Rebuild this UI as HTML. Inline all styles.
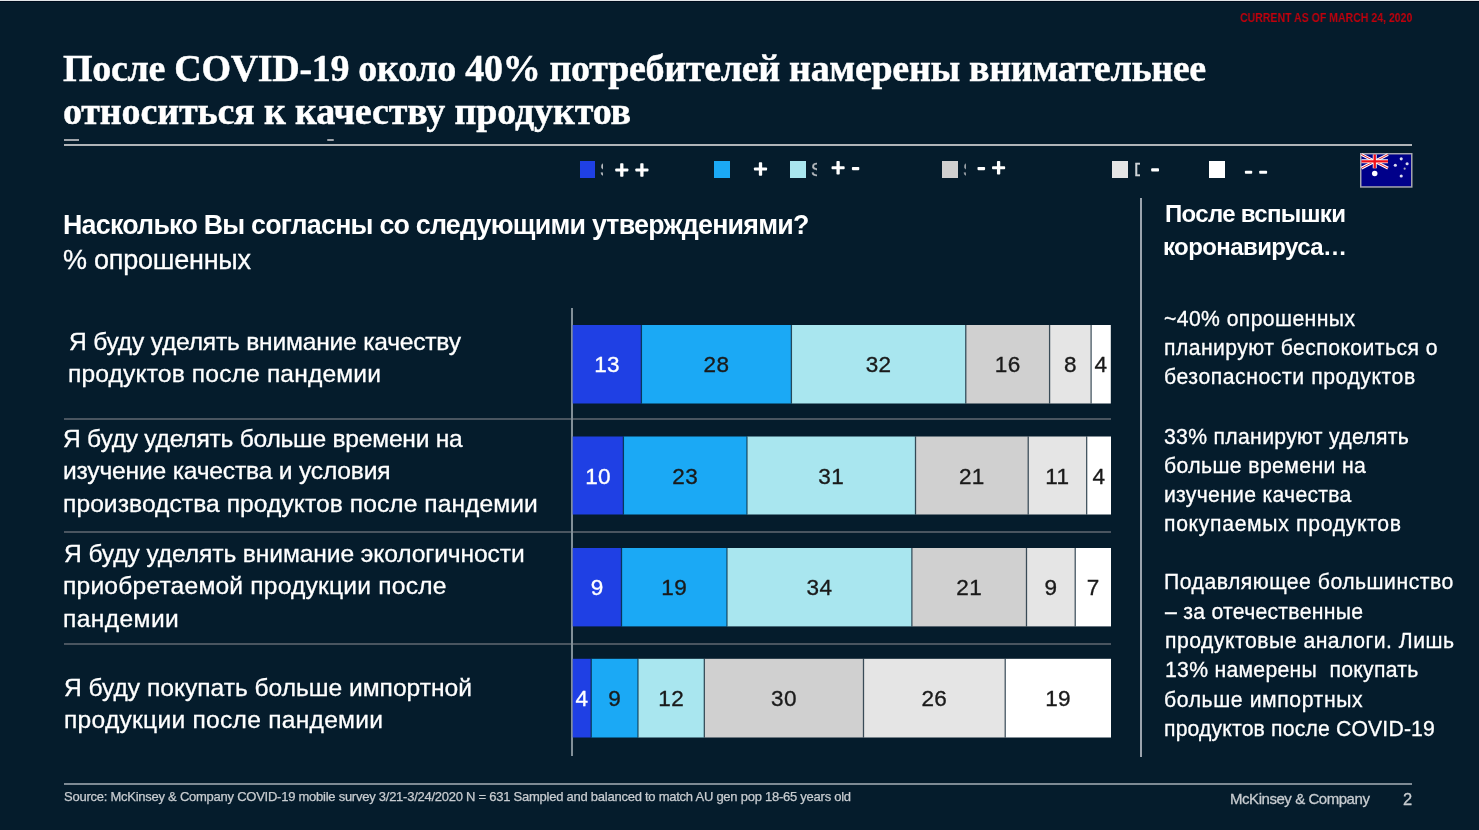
<!DOCTYPE html>
<html lang="ru">
<head>
<meta charset="utf-8">
<title>COVID-19 consumer sentiment</title>
<style>
*{margin:0;padding:0;box-sizing:border-box}
html,body{width:1479px;height:830px;overflow:hidden;background:#051c2c}
body{position:relative;font-family:"Liberation Sans",sans-serif;color:#fff}
.a{position:absolute;white-space:nowrap;will-change:transform}
.topl{position:absolute;left:0;top:0;width:1479px;height:1px;background:#e2e5e8}
.topd{position:absolute;left:0;top:1px;width:1479px;height:1px;background:#000c1c}
.red{left:1240.3px;top:11.3px;font-size:12.5px;line-height:14px;color:#c0000c;font-weight:bold;transform-origin:0 0;transform:scaleX(.843);filter:blur(.5px)}
.rule{position:absolute;background:#b0b4b8}
.sq{position:absolute;width:16px;height:16.2px}
.sep{position:absolute;height:2px;background:#4a5560}
.foot{left:64px;top:789px;font-size:13px;line-height:15px;color:#c8ccd0;letter-spacing:-.25px;-webkit-text-stroke:.25px #c8ccd0}
</style>
</head>
<body>
<div class="topl"></div><div class="topd"></div>
<div class="a red">CURRENT AS OF MARCH 24, 2020</div>
<div class="rule" style="left:64px;top:139px;width:15px;height:2px;background:#a0a4aa"></div>
<div class="rule" style="left:327px;top:139px;width:7px;height:2px;background:#a0a4aa;border-radius:2px"></div>
<div class="rule" style="left:64px;top:144px;width:1348px;height:2px"></div>

<!-- legend -->
<div class="sq" style="left:580px;top:161.4px;width:15px;background:#1f40e4"></div>
<div class="sq" style="left:714px;top:161.4px;background:#1ba9f5"></div>
<div class="sq" style="left:790px;top:161.4px;background:#a9e6ef"></div>
<div class="sq" style="left:942px;top:161.4px;background:#d0d0d0"></div>
<div class="sq" style="left:1112px;top:161.4px;background:#e5e5e5"></div>
<div class="sq" style="left:1209px;top:161.4px;background:#ffffff"></div>

<!-- LEGENDMARKS -->
<svg class="a" style="left:0;top:0" width="1479" height="200" viewBox="0 0 1479 200"><g fill="#fff">
<rect x="615.25" y="168.45" width="13.1" height="3.1" rx="0.8"/><rect x="620.15" y="163.20" width="3.3" height="13.6" rx="0.8"/>
<rect x="635.35" y="168.45" width="13.1" height="3.1" rx="0.8"/><rect x="640.25" y="163.20" width="3.3" height="13.6" rx="0.8"/>
<rect x="753.95" y="167.45" width="13.1" height="3.1" rx="0.8"/><rect x="758.85" y="162.20" width="3.3" height="13.6" rx="0.8"/>
<rect x="831.55" y="166.15" width="13.1" height="3.1" rx="0.8"/><rect x="836.45" y="160.90" width="3.3" height="13.6" rx="0.8"/>
<rect x="851.9" y="167.05" width="7.40" height="3.1" rx="0.8"/>
<rect x="977.5" y="167.05" width="7.60" height="3.1" rx="0.8"/>
<rect x="992.05" y="166.15" width="13.1" height="3.1" rx="0.8"/><rect x="996.95" y="160.90" width="3.3" height="13.6" rx="0.8"/>
<rect x="1151.2" y="168.35" width="7.80" height="3.1" rx="0.8"/>
<rect x="1244.9" y="170.75" width="7.30" height="3.1" rx="0.8"/>
<rect x="1259.2" y="170.75" width="7.90" height="3.1" rx="0.8"/>
</g></svg>
<div class="a" style="left:600.0px;top:159px;width:3.1px;height:22px;overflow:hidden;font-size:17.5px;line-height:22px;color:#b8bcc0;-webkit-text-stroke:.3px #b8bcc0">S</div>
<div class="a" style="left:811.0px;top:159px;width:6.0px;height:22px;overflow:hidden;font-size:17.5px;line-height:22px;color:#b8bcc0;-webkit-text-stroke:.3px #b8bcc0">S</div>
<div class="a" style="left:963.4px;top:159px;width:2.7px;height:22px;overflow:hidden;font-size:17.5px;line-height:22px;color:#9aa0a6;-webkit-text-stroke:.3px #9aa0a6">S</div>
<div class="a" style="left:1133.6px;top:159px;width:6.3px;height:22px;overflow:hidden;font-size:17.5px;line-height:22px;color:#d0d4d8;-webkit-text-stroke:.3px #d0d4d8">D</div>
<!-- /LEGENDMARKS -->
<!-- flag -->
<svg class="a" style="left:1360.2px;top:153.2px;filter:blur(.3px)" width="53" height="35.2" viewBox="0 0 54 36" preserveAspectRatio="none">
<rect x="0.75" y="0.75" width="52" height="34" fill="#00008a" stroke="#a8a8b0" stroke-width="1.5"/>
<g transform="translate(1.5,1.5)">
<path d="M0 0L27 14M27 0L0 14" stroke="#fff" stroke-width="3"/>
<path d="M0 0L27 14M27 0L0 14" stroke="#e0202a" stroke-width="1"/>
<path d="M13.5 0V14M0 7H27" stroke="#fff" stroke-width="4"/>
<path d="M13.5 0V14M0 7H27" stroke="#f0101a" stroke-width="2.4"/>
</g>
<circle cx="15" cy="21" r="2.8" fill="#fff"/>
<circle cx="42" cy="6" r="1.6" fill="#dde"/>
<circle cx="48" cy="11" r="1.6" fill="#dde"/>
<circle cx="36" cy="12.5" r="1.6" fill="#dde"/>
<circle cx="45.5" cy="16" r="1.1" fill="#aab"/>
<circle cx="42" cy="23.5" r="1.6" fill="#dde"/>
</svg>
<!-- left labels -->

<!-- separators -->
<div class="sep" style="left:64px;top:418px;width:1047px"></div>
<div class="sep" style="left:64px;top:531px;width:1047px"></div>
<div class="sep" style="left:64px;top:643px;width:1047px"></div>
<!-- axis -->
<div class="a" style="left:570.9px;top:307.8px;width:2px;height:447.5px;background:#828f98"></div>

<!-- divider -->
<div class="a" style="left:1139.5px;top:198px;width:2px;height:558.5px;background:#9ca4ae"></div>

<!-- right panel -->

<!-- footer -->
<div class="rule" style="left:64px;top:783px;width:1348px;height:2px;background:#7e8a94"></div>
<div class="a foot">Source: McKinsey &amp; Company COVID-19 mobile survey 3/21-3/24/2020 N = 631 Sampled and balanced to match AU gen pop 18-65 years old</div>
<div class="a" style="left:1230px;top:789.6px;font-size:15px;line-height:17px;color:#c8ccd0;letter-spacing:-.45px;-webkit-text-stroke:.3px #c8ccd0">McKinsey &amp; Company</div>
<div class="a" style="left:1403px;top:789.5px;font-size:16.5px;line-height:18px;color:#c8ccd0;-webkit-text-stroke:.3px #c8ccd0">2</div>

<!-- TEXT -->
<div class="a" style="left:63.1px;top:43.9px;font-family:'Liberation Serif',serif;font-weight:bold;-webkit-text-stroke:0.45px #fff;font-size:38px;line-height:49.4px;letter-spacing:-0.305px;color:#fff">После COVID-19 около 40% потребителей намерены внимательнее</div>
<div class="a" style="left:63.3px;top:86.8px;font-family:'Liberation Serif',serif;font-weight:bold;-webkit-text-stroke:0.45px #fff;font-size:38px;line-height:49.4px;letter-spacing:-0.147px;color:#fff">относиться к качеству продуктов</div>
<div class="a" style="left:62.9px;top:208.0px;font-weight:bold;font-size:26.8px;line-height:34.84px;letter-spacing:-0.759px;color:#fff">Насколько Вы согласны со следующими утверждениями?</div>
<div class="a" style="left:63.4px;top:243.3px;-webkit-text-stroke:0.3px #fff;font-size:27px;line-height:35.1px;letter-spacing:-0.236px;color:#fff">% опрошенных</div>
<div class="a" style="left:68.9px;top:325.6px;-webkit-text-stroke:0.3px #fff;font-size:24.6px;line-height:31.98px;letter-spacing:-0.21px;color:#fff">Я буду уделять внимание качеству</div>
<div class="a" style="left:68.4px;top:357.8px;-webkit-text-stroke:0.3px #fff;font-size:24.6px;line-height:31.98px;letter-spacing:0.148px;color:#fff">продуктов после пандемии</div>
<div class="a" style="left:63.4px;top:422.8px;-webkit-text-stroke:0.3px #fff;font-size:24.6px;line-height:31.98px;letter-spacing:-0.248px;color:#fff">Я буду уделять больше времени на</div>
<div class="a" style="left:63.2px;top:455.3px;-webkit-text-stroke:0.3px #fff;font-size:24.6px;line-height:31.98px;letter-spacing:-0.188px;color:#fff">изучение качества и условия</div>
<div class="a" style="left:63.2px;top:487.9px;-webkit-text-stroke:0.3px #fff;font-size:24.6px;line-height:31.98px;letter-spacing:0.067px;color:#fff">производства продуктов после пандемии</div>
<div class="a" style="left:63.5px;top:537.9px;-webkit-text-stroke:0.3px #fff;font-size:24.6px;line-height:31.98px;letter-spacing:-0.1px;color:#fff">Я буду уделять внимание экологичности</div>
<div class="a" style="left:63.1px;top:570.4px;-webkit-text-stroke:0.3px #fff;font-size:24.6px;line-height:31.98px;letter-spacing:0.2px;color:#fff">приобретаемой продукции после</div>
<div class="a" style="left:63.1px;top:603.3px;-webkit-text-stroke:0.3px #fff;font-size:24.6px;line-height:31.98px;letter-spacing:0.4px;color:#fff">пандемии</div>
<div class="a" style="left:64.4px;top:671.8px;-webkit-text-stroke:0.3px #fff;font-size:24.6px;line-height:31.98px;letter-spacing:-0.019px;color:#fff">Я буду покупать больше импортной</div>
<div class="a" style="left:63.9px;top:704.0px;-webkit-text-stroke:0.3px #fff;font-size:24.6px;line-height:31.98px;letter-spacing:0.257px;color:#fff">продукции после пандемии</div>
<div class="a" style="left:1164.5px;top:197.7px;font-weight:bold;font-size:24px;line-height:31.2px;letter-spacing:-0.683px;color:#fff">После вспышки</div>
<div class="a" style="left:1163.3px;top:230.6px;font-weight:bold;font-size:24px;line-height:31.2px;letter-spacing:-0.592px;color:#fff">коронавируса…</div>
<div class="a" style="left:1163.6px;top:304.9px;-webkit-text-stroke:0.3px #fff;font-size:21.2px;line-height:27.56px;letter-spacing:0.393px;color:#fff">~40% опрошенных</div>
<div class="a" style="left:1164.3px;top:334.4px;-webkit-text-stroke:0.3px #fff;font-size:21.2px;line-height:27.56px;letter-spacing:0.439px;color:#fff">планируют беспокоиться о</div>
<div class="a" style="left:1164.3px;top:363.3px;-webkit-text-stroke:0.3px #fff;font-size:21.2px;line-height:27.56px;letter-spacing:0.562px;color:#fff">безопасности продуктов</div>
<div class="a" style="left:1164.3px;top:423.4px;-webkit-text-stroke:0.3px #fff;font-size:21.2px;line-height:27.56px;letter-spacing:0.315px;color:#fff">33% планируют уделять</div>
<div class="a" style="left:1164.3px;top:451.7px;-webkit-text-stroke:0.3px #fff;font-size:21.2px;line-height:27.56px;letter-spacing:0.394px;color:#fff">больше времени на</div>
<div class="a" style="left:1164.3px;top:480.9px;-webkit-text-stroke:0.3px #fff;font-size:21.2px;line-height:27.56px;letter-spacing:0.281px;color:#fff">изучение качества</div>
<div class="a" style="left:1164.3px;top:510.0px;-webkit-text-stroke:0.3px #fff;font-size:21.2px;line-height:27.56px;letter-spacing:0.674px;color:#fff">покупаемых продуктов</div>
<div class="a" style="left:1163.5px;top:568.4px;-webkit-text-stroke:0.3px #fff;font-size:21.2px;line-height:27.56px;letter-spacing:0.495px;color:#fff">Подавляющее большинство</div>
<div class="a" style="left:1164.5px;top:598.0px;-webkit-text-stroke:0.3px #fff;font-size:21.2px;line-height:27.56px;letter-spacing:0.276px;color:#fff">– за отечественные</div>
<div class="a" style="left:1164.7px;top:627.0px;-webkit-text-stroke:0.3px #fff;font-size:21.2px;line-height:27.56px;letter-spacing:0.496px;color:#fff">продуктовые аналоги. Лишь</div>
<div class="a" style="left:1165.0px;top:655.9px;-webkit-text-stroke:0.3px #fff;font-size:21.2px;line-height:27.56px;letter-spacing:0.286px;color:#fff">13% намерены&nbsp; покупать</div>
<div class="a" style="left:1164.3px;top:685.5px;-webkit-text-stroke:0.3px #fff;font-size:21.2px;line-height:27.56px;letter-spacing:0.593px;color:#fff">больше импортных</div>
<div class="a" style="left:1164.3px;top:715.0px;-webkit-text-stroke:0.3px #fff;font-size:21.2px;line-height:27.56px;letter-spacing:0.165px;color:#fff">продуктов после COVID-19</div>
<!-- /TEXT -->
<!-- BARS -->
<svg class="a" style="left:0;top:0" width="1479" height="830" viewBox="0 0 1479 830">
<rect x="572.7" y="325" width="68.7" height="78.5" fill="#1f40e4"/>
<rect x="641.4" y="325" width="150.0" height="78.5" fill="#1ba9f5"/>
<rect x="791.4" y="325" width="174.4" height="78.5" fill="#a9e6ef"/>
<rect x="965.8" y="325" width="83.8" height="78.5" fill="#d0d0d0"/>
<rect x="1049.6" y="325" width="41.5" height="78.5" fill="#e5e5e5"/>
<rect x="1091.1" y="325" width="19.7" height="78.5" fill="#ffffff"/>
<rect x="640.75" y="325" width="1.3" height="78.5" fill="#051c2c" fill-opacity="0.68"/>
<rect x="790.75" y="325" width="1.3" height="78.5" fill="#051c2c" fill-opacity="0.68"/>
<rect x="965.15" y="325" width="1.3" height="78.5" fill="#051c2c" fill-opacity="0.68"/>
<rect x="1048.95" y="325" width="1.3" height="78.5" fill="#051c2c" fill-opacity="0.68"/>
<rect x="1090.45" y="325" width="1.3" height="78.5" fill="#051c2c" fill-opacity="0.68"/>
<text x="607.05" y="372.45" text-anchor="middle" font-size="22.5" letter-spacing="0.4" fill="#fff" stroke="#fff" stroke-width="0.35">13</text>
<text x="716.4" y="372.45" text-anchor="middle" font-size="22.5" letter-spacing="0.4" fill="#1a1a1a" stroke="#1a1a1a" stroke-width="0.35">28</text>
<text x="878.6" y="372.45" text-anchor="middle" font-size="22.5" letter-spacing="0.4" fill="#1a1a1a" stroke="#1a1a1a" stroke-width="0.35">32</text>
<text x="1007.7" y="372.45" text-anchor="middle" font-size="22.5" letter-spacing="0.4" fill="#1a1a1a" stroke="#1a1a1a" stroke-width="0.35">16</text>
<text x="1070.35" y="372.45" text-anchor="middle" font-size="22.5" letter-spacing="0.4" fill="#1a1a1a" stroke="#1a1a1a" stroke-width="0.35">8</text>
<text x="1100.95" y="372.45" text-anchor="middle" font-size="22.5" letter-spacing="0.4" fill="#1a1a1a" stroke="#1a1a1a" stroke-width="0.35">4</text>
<rect x="572.7" y="436.5" width="50.7" height="78.0" fill="#1f40e4"/>
<rect x="623.4" y="436.5" width="123.6" height="78.0" fill="#1ba9f5"/>
<rect x="747" y="436.5" width="168.5" height="78.0" fill="#a9e6ef"/>
<rect x="915.5" y="436.5" width="112.7" height="78.0" fill="#d0d0d0"/>
<rect x="1028.2" y="436.5" width="58.5" height="78.0" fill="#e5e5e5"/>
<rect x="1086.7" y="436.5" width="24.3" height="78.0" fill="#ffffff"/>
<rect x="622.75" y="436.5" width="1.3" height="78.0" fill="#051c2c" fill-opacity="0.68"/>
<rect x="746.35" y="436.5" width="1.3" height="78.0" fill="#051c2c" fill-opacity="0.68"/>
<rect x="914.85" y="436.5" width="1.3" height="78.0" fill="#051c2c" fill-opacity="0.68"/>
<rect x="1027.55" y="436.5" width="1.3" height="78.0" fill="#051c2c" fill-opacity="0.68"/>
<rect x="1086.05" y="436.5" width="1.3" height="78.0" fill="#051c2c" fill-opacity="0.68"/>
<text x="598.05" y="483.7" text-anchor="middle" font-size="22.5" letter-spacing="0.4" fill="#fff" stroke="#fff" stroke-width="0.35">10</text>
<text x="685.2" y="483.7" text-anchor="middle" font-size="22.5" letter-spacing="0.4" fill="#1a1a1a" stroke="#1a1a1a" stroke-width="0.35">23</text>
<text x="831.25" y="483.7" text-anchor="middle" font-size="22.5" letter-spacing="0.4" fill="#1a1a1a" stroke="#1a1a1a" stroke-width="0.35">31</text>
<text x="971.85" y="483.7" text-anchor="middle" font-size="22.5" letter-spacing="0.4" fill="#1a1a1a" stroke="#1a1a1a" stroke-width="0.35">21</text>
<text x="1057.45" y="483.7" text-anchor="middle" font-size="22.5" letter-spacing="0.4" fill="#1a1a1a" stroke="#1a1a1a" stroke-width="0.35">11</text>
<text x="1098.85" y="483.7" text-anchor="middle" font-size="22.5" letter-spacing="0.4" fill="#1a1a1a" stroke="#1a1a1a" stroke-width="0.35">4</text>
<rect x="572.7" y="548" width="48.8" height="78.4" fill="#1f40e4"/>
<rect x="621.5" y="548" width="105.5" height="78.4" fill="#1ba9f5"/>
<rect x="727" y="548" width="184.9" height="78.4" fill="#a9e6ef"/>
<rect x="911.9" y="548" width="114.6" height="78.4" fill="#d0d0d0"/>
<rect x="1026.5" y="548" width="48.7" height="78.4" fill="#e5e5e5"/>
<rect x="1075.2" y="548" width="35.8" height="78.4" fill="#ffffff"/>
<rect x="620.85" y="548" width="1.3" height="78.4" fill="#051c2c" fill-opacity="0.68"/>
<rect x="726.35" y="548" width="1.3" height="78.4" fill="#051c2c" fill-opacity="0.68"/>
<rect x="911.25" y="548" width="1.3" height="78.4" fill="#051c2c" fill-opacity="0.68"/>
<rect x="1025.85" y="548" width="1.3" height="78.4" fill="#051c2c" fill-opacity="0.68"/>
<rect x="1074.55" y="548" width="1.3" height="78.4" fill="#051c2c" fill-opacity="0.68"/>
<text x="597.1" y="595.4" text-anchor="middle" font-size="22.5" letter-spacing="0.4" fill="#fff" stroke="#fff" stroke-width="0.35">9</text>
<text x="674.25" y="595.4" text-anchor="middle" font-size="22.5" letter-spacing="0.4" fill="#1a1a1a" stroke="#1a1a1a" stroke-width="0.35">19</text>
<text x="819.45" y="595.4" text-anchor="middle" font-size="22.5" letter-spacing="0.4" fill="#1a1a1a" stroke="#1a1a1a" stroke-width="0.35">34</text>
<text x="969.2" y="595.4" text-anchor="middle" font-size="22.5" letter-spacing="0.4" fill="#1a1a1a" stroke="#1a1a1a" stroke-width="0.35">21</text>
<text x="1050.85" y="595.4" text-anchor="middle" font-size="22.5" letter-spacing="0.4" fill="#1a1a1a" stroke="#1a1a1a" stroke-width="0.35">9</text>
<text x="1093.1" y="595.4" text-anchor="middle" font-size="22.5" letter-spacing="0.4" fill="#1a1a1a" stroke="#1a1a1a" stroke-width="0.35">7</text>
<rect x="572.7" y="658.8" width="18.5" height="78.7" fill="#1f40e4"/>
<rect x="591.2" y="658.8" width="46.8" height="78.7" fill="#1ba9f5"/>
<rect x="638" y="658.8" width="66.3" height="78.7" fill="#a9e6ef"/>
<rect x="704.3" y="658.8" width="159.2" height="78.7" fill="#d0d0d0"/>
<rect x="863.5" y="658.8" width="141.7" height="78.7" fill="#e5e5e5"/>
<rect x="1005.2" y="658.8" width="105.8" height="78.7" fill="#ffffff"/>
<rect x="590.55" y="658.8" width="1.3" height="78.7" fill="#051c2c" fill-opacity="0.68"/>
<rect x="637.35" y="658.8" width="1.3" height="78.7" fill="#051c2c" fill-opacity="0.68"/>
<rect x="703.65" y="658.8" width="1.3" height="78.7" fill="#051c2c" fill-opacity="0.68"/>
<rect x="862.85" y="658.8" width="1.3" height="78.7" fill="#051c2c" fill-opacity="0.68"/>
<rect x="1004.55" y="658.8" width="1.3" height="78.7" fill="#051c2c" fill-opacity="0.68"/>
<text x="581.95" y="706.35" text-anchor="middle" font-size="22.5" letter-spacing="0.4" fill="#fff" stroke="#fff" stroke-width="0.35">4</text>
<text x="614.6" y="706.35" text-anchor="middle" font-size="22.5" letter-spacing="0.4" fill="#1a1a1a" stroke="#1a1a1a" stroke-width="0.35">9</text>
<text x="671.15" y="706.35" text-anchor="middle" font-size="22.5" letter-spacing="0.4" fill="#1a1a1a" stroke="#1a1a1a" stroke-width="0.35">12</text>
<text x="783.9" y="706.35" text-anchor="middle" font-size="22.5" letter-spacing="0.4" fill="#1a1a1a" stroke="#1a1a1a" stroke-width="0.35">30</text>
<text x="934.35" y="706.35" text-anchor="middle" font-size="22.5" letter-spacing="0.4" fill="#1a1a1a" stroke="#1a1a1a" stroke-width="0.35">26</text>
<text x="1058.1" y="706.35" text-anchor="middle" font-size="22.5" letter-spacing="0.4" fill="#1a1a1a" stroke="#1a1a1a" stroke-width="0.35">19</text>
</svg>
</body>
</html>
